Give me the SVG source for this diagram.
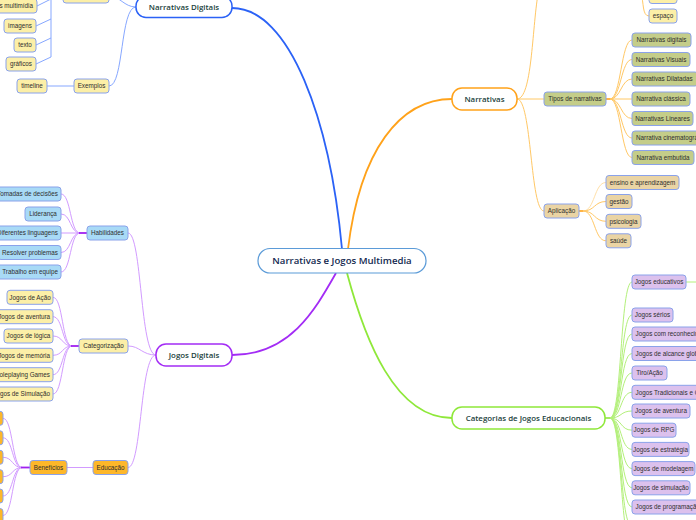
<svg xmlns="http://www.w3.org/2000/svg" width="696" height="520" viewBox="0 0 696 520">
<style>
.bg{fill:#ffffff}
.s rect{stroke:#8aa2ea;stroke-width:1}
.t{font-family:"Liberation Sans",Arial,sans-serif;font-size:6.3px;fill:#2e2e2e;text-anchor:middle}
.te{font-family:"Liberation Sans",Arial,sans-serif;font-size:6.3px;fill:#2e2e2e;text-anchor:end}
.ts{font-family:"Liberation Sans",Arial,sans-serif;font-size:6.3px;fill:#2e2e2e;text-anchor:start}
.yel{fill:#fcefa7}
.blu{fill:#a8daf6}
.org{fill:#fdb72a}
.olv{fill:#c4cd89}
.tan{fill:#ead4a4}
.lav{fill:#dcc1ed}
.m{font-family:"Open Sans","Liberation Sans",sans-serif;font-weight:600;font-size:7.9px;fill:#1c3f3c;text-anchor:middle}
.c{font-family:"Open Sans","Liberation Sans",sans-serif;font-weight:600;font-size:9.6px;fill:#12284f;text-anchor:middle}
.lb{fill:none;stroke:#86a7ff;stroke-width:1}
.lp{fill:none;stroke:#d29bff;stroke-width:1}
.lo{fill:none;stroke:#ffc866;stroke-width:1}
.lg{fill:none;stroke:#b3f07a;stroke-width:1}
</style>
<rect class="bg" x="0" y="0" width="696" height="520"/>

<g id="connectors">
  <!-- main branches -->
  <path d="M342,249 C330,120 290,8 232,8" fill="none" stroke="#2b62f6" stroke-width="1.8"/>
  <path d="M348,249 C360,150 400,99 452,99" fill="none" stroke="#ffa21a" stroke-width="1.8"/>
  <path d="M336,273 C315,310 290,355 232,355" fill="none" stroke="#a32cf5" stroke-width="1.8"/>
  <path d="M347,273 C365,340 395,418 452,418" fill="none" stroke="#8fe83a" stroke-width="1.8"/>

  <!-- Narrativas Digitais subtree -->
  <path class="lb" d="M136,7 C124,7 120,-4 109,-4"/>
  <path class="lb" d="M136,7 C120,7 124,86 109,86"/>
  <path class="lb" d="M74,86 H47"/>
  <path class="lb" d="M51,-8 V57"/>
  <path class="lb" d="M37,6 L51,-1"/>
  <path class="lb" d="M36,26 L51,19"/>
  <path class="lb" d="M36,45 L51,38"/>
  <path class="lb" d="M36,64 L51,57"/>

  <!-- Jogos Digitais subtree -->
  <path class="lp" d="M156,355 C140,355 142,233 128,233"/>
  <path class="lp" d="M156,355 C142,355 140,346 128,346"/>
  <path class="lp" d="M156,355 C140,355 142,467.5 128,467.5"/>
  <path class="lp" d="M67,467.5 H93"/>
  <path class="lp" d="M61,194 C71,194 70,233 80,233"/>
  <path class="lp" d="M61,214 C71,214 70,233 80,233"/>
  <path class="lp" d="M61,233 H80"/>
  <path class="lp" d="M61,252.5 C71,252.5 70,233 80,233"/>
  <path class="lp" d="M61,272 C71,272 70,233 80,233"/>
  <path d="M79,233 H87" fill="none" stroke="#a020f0" stroke-width="1.8"/>
  <path class="lp" d="M53,297.3 C63,297.3 62,346 72,346"/>
  <path class="lp" d="M53,316.7 C63,316.7 62,346 72,346"/>
  <path class="lp" d="M53,336 C63,336 62,346 72,346"/>
  <path class="lp" d="M53,355.3 C63,355.3 62,346 72,346"/>
  <path class="lp" d="M53,374.7 C63,374.7 62,346 72,346"/>
  <path class="lp" d="M53,394 C63,394 62,346 72,346"/>
  <path d="M71,346 H79" fill="none" stroke="#a020f0" stroke-width="1.8"/>
  <path class="lp" d="M3,418.3 C13,418.3 12,467.5 22,467.5"/>
  <path class="lp" d="M3,437.8 C13,437.8 12,467.5 22,467.5"/>
  <path class="lp" d="M3,457.3 C13,457.3 12,467.5 22,467.5"/>
  <path class="lp" d="M3,476.7 C13,476.7 12,467.5 22,467.5"/>
  <path class="lp" d="M3,496 C13,496 12,467.5 22,467.5"/>
  <path class="lp" d="M3,515.5 C13,515.5 12,467.5 22,467.5"/>
  <path d="M21,467.5 H30" fill="none" stroke="#a020f0" stroke-width="1.8"/>

  <!-- Narrativas subtree -->
  <path class="lo" d="M517,99 H544"/>
  <path class="lo" d="M517,99 C532,99 532,30 538,-6"/>
  <path class="lo" d="M517,99 C532,99 530,211 544,211"/>
  <path class="lo" d="M649,16 C642,16 644,2 641,-6"/>
  <path d="M606,99 H610" fill="none" stroke="#ffa21a" stroke-width="1.6"/>
  <path class="lo" d="M610,99 C621,99 621,40 632,40"/>
  <path class="lo" d="M610,99 C621,99 621,59.5 632,59.5"/>
  <path class="lo" d="M610,99 C621,99 621,79 632,79"/>
  <path class="lo" d="M610,99 H632"/>
  <path class="lo" d="M610,99 C621,99 621,118.5 632,118.5"/>
  <path class="lo" d="M610,99 C621,99 621,138 632,138"/>
  <path class="lo" d="M610,99 C621,99 621,157.5 632,157.5"/>
  <path d="M579,211 H583" fill="none" stroke="#ffa21a" stroke-width="1.6"/>
  <path class="lo" d="M583,211 C595,211 594,182.5 606,182.5" style="stroke:#ffe0a8"/>
  <path class="lo" d="M583,211 C595,211 594,201.5 606,201.5"/>
  <path class="lo" d="M583,211 C595,211 594,221.3 606,221.3"/>
  <path class="lo" d="M583,211 C595,211 594,240.8 606,240.8"/>

  <!-- Categorias subtree -->
  <path d="M605,418 H610" fill="none" stroke="#8fe83a" stroke-width="1.6"/>
  <path class="lg" d="M610,418 C622,418 620,282 632,282"/>
  <path class="lg" d="M686,282 H696"/>
  <path class="lg" d="M610,418 C622,418 620,315 632,315"/>
  <path class="lg" d="M610,418 C622,418 620,334 632,334"/>
  <path class="lg" d="M610,418 C622,418 620,353.5 632,353.5"/>
  <path class="lg" d="M610,418 C622,418 620,373 632,373"/>
  <path class="lg" d="M610,418 C622,418 620,392.3 632,392.3"/>
  <path class="lg" d="M610,418 C622,418 620,411 632,411"/>
  <path class="lg" d="M610,418 C622,418 620,430.2 632,430.2"/>
  <path class="lg" d="M610,418 C622,418 620,449.4 632,449.4"/>
  <path class="lg" d="M610,418 C622,418 620,468.6 632,468.6"/>
  <path class="lg" d="M610,418 C622,418 620,487.8 632,487.8"/>
  <path class="lg" d="M610,418 C622,418 620,507 632,507"/>
  <path class="lg" d="M610,418 C622,418 620,526.2 632,526.2"/>
  <path class="lg" d="M610,418 C622,418 620,545.4 632,545.4"/>
</g>

<!-- central -->
<g id="central">
  <rect x="258" y="248.5" width="168" height="24.5" rx="12" fill="#ffffff" stroke="#5b9bd8" stroke-width="1.2"/>
  <text class="c" x="342" y="264.3">Narrativas e Jogos Multimedia</text>
</g>

<!-- main branches -->
<g id="narrativas-digitais">
  <rect x="136" y="-4" width="96" height="21.5" rx="10" fill="#ffffff" stroke="#2b62f6" stroke-width="1.5"/>
  <text class="m" x="184" y="9.8">Narrativas Digitais</text>
</g>
<g id="narrativas">
  <rect x="452" y="88" width="65" height="22" rx="10" fill="#ffffff" stroke="#ffa21a" stroke-width="1.5"/>
  <text class="m" x="484.5" y="101.8">Narrativas</text>
</g>
<g id="jogos-digitais">
  <rect x="156" y="344" width="76" height="22" rx="10" fill="#ffffff" stroke="#a32cf5" stroke-width="1.5"/>
  <text class="m" x="194" y="357.8">Jogos Digitais</text>
</g>
<g id="categorias">
  <rect x="452" y="407" width="153" height="22" rx="10" fill="#ffffff" stroke="#8fe83a" stroke-width="1.5"/>
  <text class="m" x="528.5" y="420.8">Categorias de Jogos Educacionais</text>
</g>

<!-- Narrativas Digitais subtree -->
<g id="nd-top" class="s"><rect class="yel" x="63" y="-11" width="46" height="14" rx="3"/></g>
<g id="nd-multimidia" class="s"><rect class="yel" x="-20" y="-1" width="57" height="14" rx="3"/><text class="te" x="33" y="8.2">s multimídia</text></g>
<g id="nd-imagens" class="s"><rect class="yel" x="4" y="19" width="32" height="14" rx="3"/><text class="t" x="20" y="28.2">imagens</text></g>
<g id="nd-texto" class="s"><rect class="yel" x="14" y="38" width="22" height="14" rx="3"/><text class="t" x="25" y="47.2">texto</text></g>
<g id="nd-graficos" class="s"><rect class="yel" x="6" y="57" width="30" height="14" rx="3"/><text class="t" x="21" y="66.2">gráficos</text></g>
<g id="nd-timeline" class="s"><rect class="yel" x="17" y="79" width="30" height="14" rx="3"/><text class="t" x="32" y="88.2">timeline</text></g>
<g id="nd-exemplos" class="s"><rect class="yel" x="74" y="79" width="35" height="14" rx="3"/><text class="t" x="91.5" y="88.2">Exemplos</text></g>

<!-- Jogos Digitais subtree -->
<g id="habilidades" class="s"><rect class="blu" x="87" y="226" width="41" height="14" rx="3"/><text class="t" x="107.5" y="235.2">Habilidades</text></g>
<g id="hab-tomadas" class="s"><rect class="blu" x="-10" y="187" width="71" height="14" rx="3"/><text class="te" x="58" y="196.2">Tomadas de decisões</text></g>
<g id="hab-lideranca" class="s"><rect class="blu" x="25" y="207" width="36" height="14" rx="3"/><text class="t" x="43" y="216.2">Liderança</text></g>
<g id="hab-linguagens" class="s"><rect class="blu" x="-15" y="226" width="76" height="14" rx="3"/><text class="te" x="58" y="235.2">Diferentes linguagens</text></g>
<g id="hab-resolver" class="s"><rect class="blu" x="-2" y="245.5" width="63" height="14" rx="3"/><text class="te" x="58" y="254.7">Resolver problemas</text></g>
<g id="hab-trabalho" class="s"><rect class="blu" x="-3" y="265" width="64" height="14" rx="3"/><text class="te" x="58" y="274.2">Trabalho em equipe</text></g>

<g id="categorizacao" class="s"><rect class="yel" x="79" y="339" width="49" height="14" rx="3"/><text class="t" x="103.5" y="348.2">Categorização</text></g>
<g id="cat-acao" class="s"><rect class="yel" x="7" y="290.3" width="46" height="14" rx="3"/><text class="t" x="30" y="299.5">Jogos de Ação</text></g>
<g id="cat-aventura" class="s"><rect class="yel" x="-3" y="309.7" width="56" height="14" rx="3"/><text class="te" x="50" y="318.9">Jogos de aventura</text></g>
<g id="cat-logica" class="s"><rect class="yel" x="4" y="329" width="49" height="14" rx="3"/><text class="t" x="28.5" y="338.2">Jogos de lógica</text></g>
<g id="cat-memoria" class="s"><rect class="yel" x="-8" y="348.3" width="61" height="14" rx="3"/><text class="te" x="50" y="357.5">Jogos de memória</text></g>
<g id="cat-roleplaying" class="s"><rect class="yel" x="-10" y="367.7" width="63" height="14" rx="3"/><text class="te" x="50" y="376.9">Roleplaying Games</text></g>
<g id="cat-simulacao" class="s"><rect class="yel" x="-10" y="387" width="63" height="14" rx="3"/><text class="te" x="50" y="396.2">Jogos de Simulação</text></g>

<g id="educacao" class="s"><rect class="org" x="93" y="460.5" width="35" height="14" rx="3"/><text class="t" x="110.5" y="469.7">Educação</text></g>
<g id="beneficios" class="s"><rect class="org" x="30" y="460.5" width="37" height="14" rx="3"/><text class="t" x="48.5" y="469.7">Benefícios</text></g>
<g id="ben-1" class="s"><rect class="org" x="-40" y="411.3" width="43" height="14" rx="3"/></g>
<g id="ben-2" class="s"><rect class="org" x="-40" y="430.8" width="43" height="14" rx="3"/></g>
<g id="ben-3" class="s"><rect class="org" x="-40" y="450.3" width="43" height="14" rx="3"/></g>
<g id="ben-4" class="s"><rect class="org" x="-40" y="469.7" width="43" height="14" rx="3"/></g>
<g id="ben-5" class="s"><rect class="org" x="-40" y="489" width="43" height="14" rx="3"/></g>
<g id="ben-6" class="s"><rect class="org" x="-40" y="508.5" width="43" height="14" rx="3"/></g>

<!-- Narrativas subtree -->
<g id="nar-top" class="s"><rect class="yel" x="649" y="-10.5" width="28" height="14" rx="3"/></g>
<g id="nar-espaco" class="s"><rect class="yel" x="649" y="9" width="28" height="14" rx="3"/><text class="t" x="663" y="18.2">espaço</text></g>

<g id="tipos" class="s"><rect class="olv" x="544" y="92" width="62" height="14" rx="3"/><text class="t" x="575" y="101.2">Tipos de narrativas</text></g>
<g id="tipo-digitais" class="s"><rect class="olv" x="632" y="33" width="59" height="14" rx="3"/><text class="t" x="661.5" y="42.2">Narrativas digitais</text></g>
<g id="tipo-visuais" class="s"><rect class="olv" x="632" y="52.5" width="58" height="14" rx="3"/><text class="t" x="661" y="61.7">Narrativas Visuais</text></g>
<g id="tipo-dilatadas" class="s"><rect class="olv" x="632" y="72" width="66" height="14" rx="3"/><text class="ts" x="636" y="81.2">Narrativas Dilatadas</text></g>
<g id="tipo-classica" class="s"><rect class="olv" x="632" y="92" width="58" height="14" rx="3"/><text class="t" x="661" y="101.2">Narrativa clássica</text></g>
<g id="tipo-lineares" class="s"><rect class="olv" x="632" y="111.5" width="61" height="14" rx="3"/><text class="t" x="662.5" y="120.7">Narrativas Lineares</text></g>
<g id="tipo-cinematografica" class="s"><rect class="olv" x="632" y="131" width="80" height="14" rx="3"/><text class="ts" x="636" y="140.2">Narrativa cinematográfica</text></g>
<g id="tipo-embutida" class="s"><rect class="olv" x="632" y="150.5" width="62" height="14" rx="3"/><text class="t" x="663" y="159.7">Narrativa embutida</text></g>

<g id="aplicacao" class="s"><rect class="tan" x="544" y="204" width="35" height="14" rx="3"/><text class="t" x="561.5" y="213.2">Aplicação</text></g>
<g id="ap-ensino" class="s"><rect class="tan" x="606" y="175.5" width="73" height="14" rx="3"/><text class="t" x="642.5" y="184.7">ensino e aprendizagem</text></g>
<g id="ap-gestao" class="s"><rect class="tan" x="606" y="194.5" width="26" height="14" rx="3"/><text class="t" x="619" y="203.7">gestão</text></g>
<g id="ap-psicologia" class="s"><rect class="tan" x="606" y="214.3" width="35" height="14" rx="3"/><text class="t" x="623.5" y="223.5">psicologia</text></g>
<g id="ap-saude" class="s"><rect class="tan" x="606" y="233.8" width="25" height="14" rx="3"/><text class="t" x="618.5" y="243">saúde</text></g>

<!-- Categorias subtree -->
<g id="cj-educativos" class="s"><rect class="lav" x="632" y="275" width="54" height="14" rx="3"/><text class="t" x="659" y="284.2">Jogos educativos</text></g>
<g id="cj-serios" class="s"><rect class="lav" x="632" y="308" width="41" height="14" rx="3"/><text class="t" x="652.5" y="317.2">Jogos sérios</text></g>
<g id="cj-reconhecimento" class="s"><rect class="lav" x="632" y="327" width="90" height="14" rx="3"/><text class="ts" x="635.5" y="336.2">Jogos com reconhecimento</text></g>
<g id="cj-alcance" class="s"><rect class="lav" x="632" y="346.5" width="80" height="14" rx="3"/><text class="ts" x="635.5" y="355.7">Jogos de alcance global</text></g>
<g id="cj-tiro" class="s"><rect class="lav" x="632" y="366" width="35" height="14" rx="3"/><text class="t" x="649.5" y="375.2">Tiro/Ação</text></g>
<g id="cj-tradicionais" class="s"><rect class="lav" x="632" y="385.3" width="80" height="14" rx="3"/><text class="ts" x="635.5" y="394.5">Jogos Tradicionais e C</text></g>
<g id="cj-aventura" class="s"><rect class="lav" x="632" y="404" width="58" height="14" rx="3"/><text class="t" x="661" y="413.2">Jogos de aventura</text></g>
<g id="cj-rpg" class="s"><rect class="lav" x="632" y="423.2" width="44" height="14" rx="3"/><text class="t" x="654" y="432.4">Jogos de RPG</text></g>
<g id="cj-estrategia" class="s"><rect class="lav" x="632" y="442.4" width="57" height="14" rx="3"/><text class="t" x="660.5" y="451.6">Jogos de estratégia</text></g>
<g id="cj-modelagem" class="s"><rect class="lav" x="632" y="461.6" width="63" height="14" rx="3"/><text class="t" x="663.5" y="470.8">Jogos de modelagem</text></g>
<g id="cj-simulacao" class="s"><rect class="lav" x="632" y="480.8" width="58" height="14" rx="3"/><text class="t" x="661" y="490">Jogos de simulação</text></g>
<g id="cj-programacao" class="s"><rect class="lav" x="632" y="500" width="80" height="14" rx="3"/><text class="ts" x="635.5" y="509.2">Jogos de programação</text></g>
</svg>
